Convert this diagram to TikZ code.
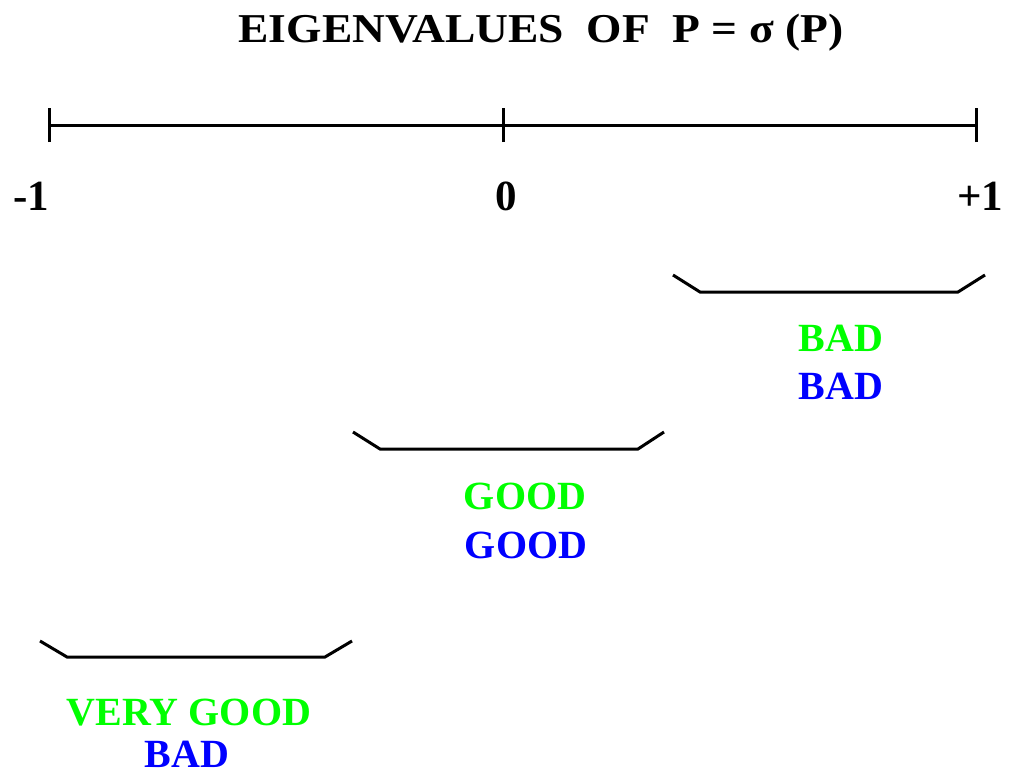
\documentclass[tikz,border=0pt]{standalone}
\usepackage{fontspec}
\setmainfont{Liberation Serif}
\newfontfamily\titlefont[FakeStretch=1.11]{Liberation Serif}
\begin{document}
\begin{tikzpicture}[x=1pt,y=-1pt,
  lbl/.style={font=\fontsize{40}{46}\selectfont\bfseries, inner sep=0pt, anchor=base},
  grn/.style={lbl, text={rgb,255:red,0;green,255;blue,0}},
  blu/.style={lbl, text={rgb,255:red,0;green,0;blue,255}},
  axis/.style={line width=3pt},
  brk/.style={line width=3pt, line join=miter}]
\useasboundingbox[fill=white] (0,0) rectangle (1010,776);
\node[lbl, font=\titlefont\fontsize{41}{46}\selectfont\bfseries] (title) at (541,43) {EIGENVALUES\ \ OF\ \ P = σ (P)};
% axis
\coordinate (a) at (49,125);
\coordinate (m) at (503,125);
\coordinate (b) at (976,125);
\draw[axis] (a) -- (b);
\draw[axis] ([yshift=-17pt]a) -- ([yshift=17pt]a);
\draw[axis] ([yshift=-17pt]m) -- ([yshift=17pt]m);
\draw[axis] ([yshift=-17pt]b) -- ([yshift=17pt]b);
\node[lbl, font=\fontsize{43}{46}\selectfont\bfseries] (lm1) at (31,210) {-1};
\node[lbl, font=\fontsize{43}{46}\selectfont\bfseries] (l0) at (506,210) {0};
\node[lbl, font=\fontsize{43}{46}\selectfont\bfseries] (lp1) at (980,210) {+1};
% brackets
\coordinate (b1a) at (673,275); \coordinate (b1b) at (700,292);
\coordinate (b1c) at (958,292); \coordinate (b1d) at (985,275);
\draw[brk] (b1a) -- (b1b) -- (b1c) -- (b1d);
\coordinate (b2a) at (353,432); \coordinate (b2b) at (380,449);
\coordinate (b2c) at (638,449); \coordinate (b2d) at (664,432);
\draw[brk] (b2a) -- (b2b) -- (b2c) -- (b2d);
\coordinate (b3a) at (40,641); \coordinate (b3b) at (67,657);
\coordinate (b3c) at (325,657); \coordinate (b3d) at (352,641);
\draw[brk] (b3a) -- (b3b) -- (b3c) -- (b3d);
% labels
\node[grn] (t1g) at (841,351) {BAD};
\node[blu] (t1b) at (841,399) {BAD};
\node[grn] (t2g) at (525,509) {GOOD};
\node[blu] (t2b) at (526,558) {GOOD};
\node[grn] (t3g) at (189,725) {VERY GOOD};
\node[blu] (t3b) at (187,767) {BAD};
\end{tikzpicture}
\end{document}
